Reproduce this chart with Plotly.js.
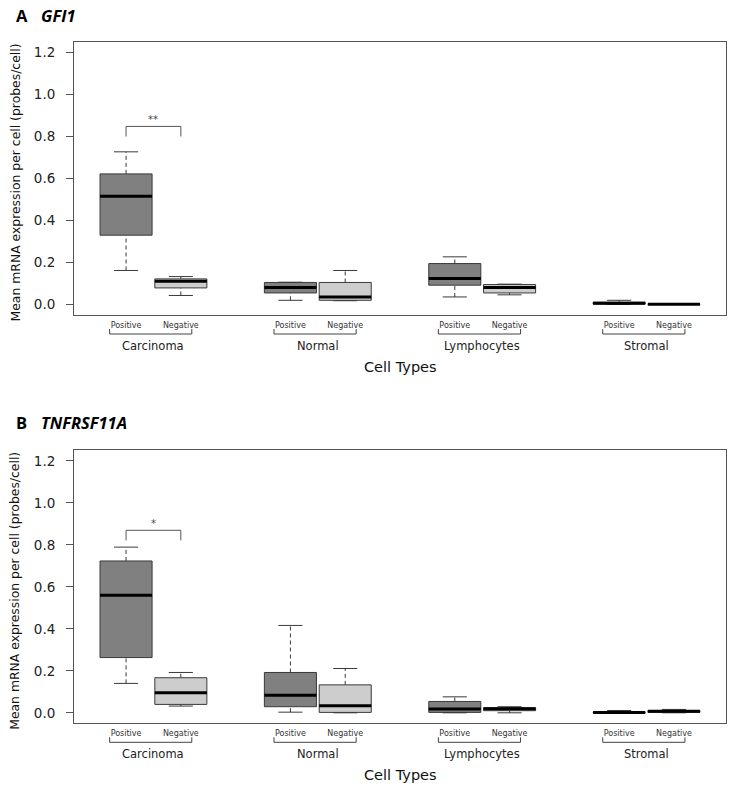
<!DOCTYPE html>
<html><head><meta charset="utf-8">
<script src="https://cdn.plot.ly/plotly-3.0.1.min.js"></script>
<style>html,body{margin:0;padding:0;background:#fff;} #chart{width:731px;height:794px;}</style>
</head><body><div id="chart"></div>
<script>
// ---------- DATA ----------
const groups = ['Carcinoma', 'Normal', 'Lymphocytes', 'Stromal'];
const subLabels = ['Positive', 'Negative'];
const positions = [1, 2, 4, 5, 7, 8, 10, 11];
const yTicks = [0, 0.2, 0.4, 0.6, 0.8, 1.0, 1.2];
const yTickText = ['0.0', '0.2', '0.4', '0.6', '0.8', '1.0', '1.2'];

// order: Carc+, Carc-, Norm+, Norm-, Lym+, Lym-, Str+, Str-
const gfi1Low  = [0.162, 0.043, 0.020, 0.018, 0.036, 0.046, 0.000, 0.000];
const gfi1Q1   = [0.330, 0.079, 0.055, 0.020, 0.092, 0.055, 0.002, 0.000];
const gfi1Med  = [0.516, 0.111, 0.081, 0.036, 0.124, 0.081, 0.006, 0.001];
const gfi1Q3   = [0.622, 0.122, 0.105, 0.105, 0.195, 0.095, 0.011, 0.003];
const gfi1High = [0.727, 0.133, 0.106, 0.162, 0.227, 0.097, 0.020, 0.004];

const tnfLow  = [0.140, 0.032, 0.003, 0.000, 0.000, 0.000, 0.000, 0.000];
const tnfQ1   = [0.263, 0.040, 0.029, 0.002, 0.002, 0.010, 0.000, 0.002];
const tnfMed  = [0.560, 0.095, 0.084, 0.033, 0.018, 0.019, 0.001, 0.007];
const tnfQ3   = [0.723, 0.167, 0.192, 0.133, 0.054, 0.024, 0.003, 0.011];
const tnfHigh = [0.789, 0.192, 0.416, 0.211, 0.076, 0.029, 0.011, 0.016];

// significance brackets: [first box index, second box index]
const gfi1SigPair = [0, 1]; const gfi1SigTop = 0.848; const gfi1SigLeg = 0.800; const gfi1SigLabel = '**';
const tnfSigPair  = [0, 1]; const tnfSigTop  = 0.869; const tnfSigLeg  = 0.821; const tnfSigLabel  = '*';

// ---------- STYLE / LAYOUT ----------
const W = 731, H = 794;
const FONT = 'DejaVu Sans, Liberation Sans, sans-serif';
const TFONT = 'Open Sans, Lato, sans-serif';
const DARK = '#808080', LIGHT = '#cdcdcd', EDGE = '#3a3a3a', FRAME = '#555555';
const BOXW = 0.95, CAPHW = 0.22;
const fx = p => p / W;
const fy = p => 1 - p / H;

const panels = [
  {letter: 'A', gene: 'GFI1', xa: 'x', ya: 'y', top: 42, bottom: 315, titleY: 15,
   low: gfi1Low, q1: gfi1Q1, med: gfi1Med, q3: gfi1Q3, high: gfi1High,
   sigPair: gfi1SigPair, sigTop: gfi1SigTop, sigLeg: gfi1SigLeg, sigLabel: gfi1SigLabel},
  {letter: 'B', gene: 'TNFRSF11A', xa: 'x2', ya: 'y2', top: 450.3, bottom: 723.3, titleY: 422,
   low: tnfLow, q1: tnfQ1, med: tnfMed, q3: tnfQ3, high: tnfHigh,
   sigPair: tnfSigPair, sigTop: tnfSigTop, sigLeg: tnfSigLeg, sigLabel: tnfSigLabel}
];

const traces = [], annotations = [], shapes = [];
const layout = {
  width: W, height: H, margin: {l: 0, r: 0, t: 0, b: 0},
  paper_bgcolor: '#fff', plot_bgcolor: '#fff', showlegend: false,
  boxmode: 'overlay'
};

panels.forEach((P, pi) => {
  const base = {xaxis: P.xa, yaxis: P.ya, hoverinfo: 'skip', showlegend: false};
  [[0, DARK], [1, LIGHT]].forEach(([parity, col]) => {
    const idx = positions.map((_, i) => i).filter(i => i % 2 === parity);
    traces.push(Object.assign({
      type: 'box',
      x: idx.map(i => positions[i]),
      q1: idx.map(i => P.q1[i]),
      median: idx.map(i => P.med[i]),
      q3: idx.map(i => P.q3[i]),
      lowerfence: idx.map(i => P.q1[i]),
      upperfence: idx.map(i => P.q3[i]),
      width: BOXW, whiskerwidth: 0, boxpoints: false,
      fillcolor: col, line: {color: EDGE, width: 1}
    }, base));
  });
  // dashed whiskers, caps, thick medians
  const wx = [], wy = [], cx = [], cy = [], mx = [], my = [];
  positions.forEach((p, i) => {
    wx.push(p, p, null, p, p, null);
    wy.push(P.q3[i], P.high[i], null, P.low[i], P.q1[i], null);
    cx.push(p - CAPHW, p + CAPHW, null, p - CAPHW, p + CAPHW, null);
    cy.push(P.high[i], P.high[i], null, P.low[i], P.low[i], null);
    mx.push(p - BOXW / 2, p + BOXW / 2, null);
    my.push(P.med[i], P.med[i], null);
  });
  traces.push(Object.assign({type: 'scatter', mode: 'lines', x: wx, y: wy,
    line: {color: EDGE, width: 1, dash: '4px,3px'}}, base));
  traces.push(Object.assign({type: 'scatter', mode: 'lines', x: cx, y: cy,
    line: {color: EDGE, width: 1}}, base));
  traces.push(Object.assign({type: 'scatter', mode: 'lines', x: mx, y: my,
    line: {color: '#000', width: 3}}, base));
  // significance bracket
  const s1 = positions[P.sigPair[0]], s2 = positions[P.sigPair[1]];
  traces.push(Object.assign({type: 'scatter', mode: 'lines',
    x: [s1, s1, s2, s2], y: [P.sigLeg, P.sigTop, P.sigTop, P.sigLeg],
    line: {color: FRAME, width: 1}}, base));
  annotations.push({xref: P.xa, yref: P.ya, x: (s1 + s2) / 2, y: P.sigTop, text: P.sigLabel,
    showarrow: false, yanchor: 'bottom', yshift: -1, font: {family: FONT, size: 10, color: '#444'}});

  const xName = pi === 0 ? 'xaxis' : 'xaxis2';
  const yName = pi === 0 ? 'yaxis' : 'yaxis2';
  const yDom = [fy(P.bottom), fy(P.top)];
  layout[xName] = {
    domain: [fx(74), fx(726)], range: [0.05, 11.95], anchor: P.ya,
    tickvals: positions, ticktext: positions.map((_, i) => subLabels[i % 2]),
    tickfont: {family: FONT, size: 8, color: '#333'}, ticks: '', ticklabelstandoff: 2,
    showline: true, mirror: true, linecolor: FRAME, linewidth: 1,
    showgrid: false, zeroline: false, fixedrange: true
  };
  layout[yName] = {
    domain: yDom, range: [-0.05, 1.25], anchor: P.xa,
    tickvals: yTicks, ticktext: yTickText,
    tickfont: {family: FONT, size: 13.5, color: '#222'},
    ticks: 'outside', ticklen: 7, tickcolor: FRAME, tickwidth: 1, ticklabelstandoff: 8,
    showline: true, mirror: true, linecolor: FRAME, linewidth: 1,
    showgrid: false, zeroline: false, fixedrange: true
  };

  // group brackets & labels under the axis
  const bY = P.bottom + 19, bT = P.bottom + 14;
  groups.forEach((g, gi) => {
    const a = positions[2 * gi], b = positions[2 * gi + 1];
    const x1 = a - 0.3, x2 = b + 0.2;
    shapes.push({type: 'path', xref: P.xa, yref: 'paper',
      path: `M ${x1},${fy(bT)} L ${x1},${fy(bY)} L ${x2},${fy(bY)} L ${x2},${fy(bT)}`,
      line: {color: '#444', width: 1}});
    annotations.push({xref: P.xa, yref: 'paper', x: (a + b) / 2, y: fy(P.bottom + 30.7),
      text: g, showarrow: false, yanchor: 'middle', font: {family: FONT, size: 11.5, color: '#222'}});
  });
  annotations.push({xref: 'paper', yref: 'paper', x: fx(400), y: fy(P.bottom + 52),
    text: 'Cell Types', showarrow: false, yanchor: 'middle',
    font: {family: FONT, size: 14.5, color: '#111'}});
  annotations.push({xref: 'paper', yref: 'paper', x: fx(15), y: fy((P.top + P.bottom) / 2 + 4),
    text: 'Mean mRNA expression per cell (probes/cell)', textangle: -90, showarrow: false,
    xanchor: 'center', yanchor: 'middle', font: {family: FONT, size: 12.4, color: '#111'}});
  // panel title
  annotations.push({xref: 'paper', yref: 'paper', x: fx(14), y: fy(P.titleY), xanchor: 'left',
    yanchor: 'middle', text: '<b>' + P.letter + '</b>', showarrow: false,
    font: {family: TFONT, size: 16.5, color: '#000'}});
  annotations.push({xref: 'paper', yref: 'paper', x: fx(39), y: fy(P.titleY), xanchor: 'left',
    yanchor: 'middle', text: '<b><i>' + P.gene + '</i></b>', showarrow: false,
    font: {family: TFONT, size: 16.5, color: '#000'}});
});

layout.annotations = annotations;
layout.shapes = shapes;
Plotly.newPlot('chart', traces, layout, {displayModeBar: false, staticPlot: true});
</script></body></html>
